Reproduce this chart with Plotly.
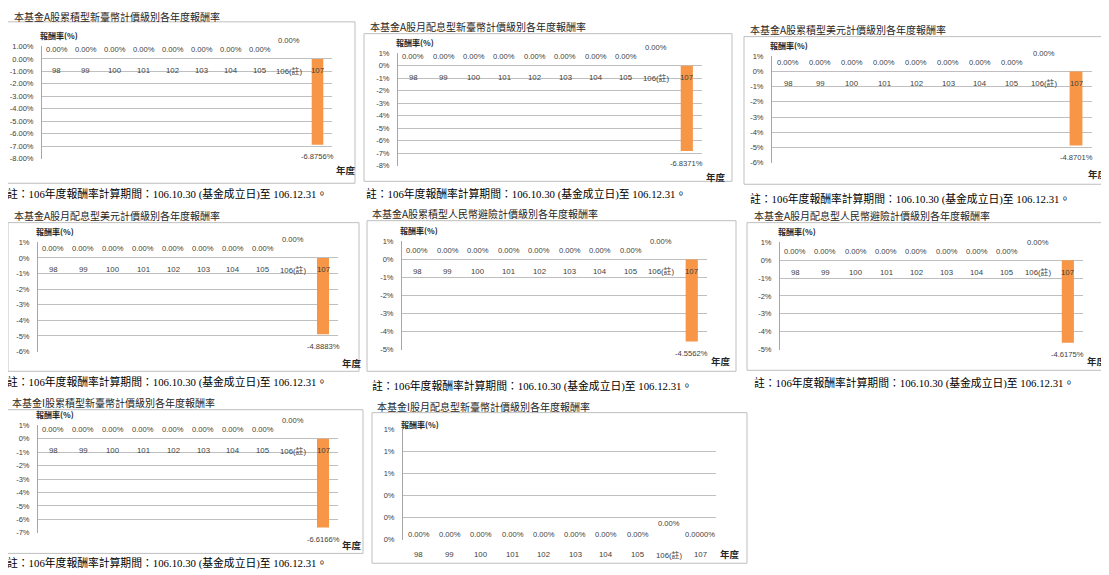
import plotly.graph_objects as go

W, H = 1109, 575

# ---------------- data ----------------
categories = ["98", "99", "100", "101", "102", "103", "104", "105", "106(註)", "107"]

titles = [
    "本基金A股累積型新臺幣計價級別各年度報酬率",
    "本基金A股月配息型新臺幣計價級別各年度報酬率",
    "本基金A股累積型美元計價級別各年度報酬率",
    "本基金A股月配息型美元計價級別各年度報酬率",
    "本基金A股累積型人民幣避險計價級別各年度報酬率",
    "本基金A股月配息型人民幣避險計價級別各年度報酬率",
    "本基金I股累積型新臺幣計價級別各年度報酬率",
    "本基金I股月配息型新臺幣計價級別各年度報酬率",
]

ret_a_acc_twd = [0, 0, 0, 0, 0, 0, 0, 0, 0, -6.8756]
ret_a_mth_twd = [0, 0, 0, 0, 0, 0, 0, 0, 0, -6.8371]
ret_a_acc_usd = [0, 0, 0, 0, 0, 0, 0, 0, 0, -4.8701]
ret_a_mth_usd = [0, 0, 0, 0, 0, 0, 0, 0, 0, -4.8883]
ret_a_acc_cny = [0, 0, 0, 0, 0, 0, 0, 0, 0, -4.5562]
ret_a_mth_cny = [0, 0, 0, 0, 0, 0, 0, 0, 0, -4.6175]
ret_i_acc_twd = [0, 0, 0, 0, 0, 0, 0, 0, 0, -6.6166]
ret_i_mth_twd = [0, 0, 0, 0, 0, 0, 0, 0, 0, 0.0]

ytick_c1 = [1, 0, -1, -2, -3, -4, -5, -6, -7, -8]
ytext_c1 = ["1.00%", "0.00%", "-1.00%", "-2.00%", "-3.00%", "-4.00%", "-5.00%", "-6.00%", "-7.00%", "-8.00%"]
ytick_c2 = [1, 0, -1, -2, -3, -4, -5, -6, -7, -8]
ytext_c2 = ["1%", "0%", "-1%", "-2%", "-3%", "-4%", "-5%", "-6%", "-7%", "-8%"]
ytick_c3 = [1, 0, -1, -2, -3, -4, -5, -6]
ytext_c3 = ["1%", "0%", "-1%", "-2%", "-3%", "-4%", "-5%", "-6%"]
ytick_c4 = [1, 0, -1, -2, -3, -4, -5, -6]
ytext_c4 = ["1%", "0%", "-1%", "-2%", "-3%", "-4%", "-5%", "-6%"]
ytick_c5 = [1, 0, -1, -2, -3, -4, -5]
ytext_c5 = ["1%", "0%", "-1%", "-2%", "-3%", "-4%", "-5%"]
ytick_c6 = [1, 0, -1, -2, -3, -4, -5]
ytext_c6 = ["1%", "0%", "-1%", "-2%", "-3%", "-4%", "-5%"]
ytick_c7 = [1, 0, -1, -2, -3, -4, -5, -6, -7]
ytext_c7 = ["1%", "0%", "-1%", "-2%", "-3%", "-4%", "-5%", "-6%", "-7%"]
ytick_c8 = [0, 0.2, 0.4, 0.6, 0.8, 1.0]
ytext_c8 = ["0%", "0%", "0%", "1%", "1%", "1%"]

note_text = "註：106年度報酬率計算期間：106.10.30 (基金成立日)至 106.12.31。"
ylabel_text = "報酬率(%)"
xlabel_text = "年度"

series = [ret_a_acc_twd, ret_a_mth_twd, ret_a_acc_usd, ret_a_mth_usd,
          ret_a_acc_cny, ret_a_mth_cny, ret_i_acc_twd, ret_i_mth_twd]
yticks = [ytick_c1, ytick_c2, ytick_c3, ytick_c4, ytick_c5, ytick_c6, ytick_c7, ytick_c8]
ytexts = [ytext_c1, ytext_c2, ytext_c3, ytext_c4, ytext_c5, ytext_c6, ytext_c7, ytext_c8]
has_note = [True, True, True, True, True, True, True, False]

# ---------------- layout geometry (screen pixels) ----------------
geo = [
    dict(plot=(42, 332, 43, 157), box=(6, 18, 355, 182), title=(12, 13), note=(5, 193)),
    dict(plot=(398, 702, 50, 164), box=(364, 30, 732, 180), title=(368, 23), note=(364, 193)),
    dict(plot=(772, 1092, 53, 161), box=(744, 33, 1120, 183), title=(748, 26), note=(748, 198)),
    dict(plot=(38, 338, 242, 353), box=(8, 222, 359, 373), title=(12, 215), note=(5, 384)),
    dict(plot=(402, 707, 241, 351), box=(367, 220, 736, 373), title=(370, 213), note=(370, 388)),
    dict(plot=(780, 1083, 242, 351), box=(747, 222, 1120, 372), title=(752, 215), note=(752, 385)),
    dict(plot=(38, 338, 428, 537), box=(6, 412, 363, 558), title=(10, 405), note=(5, 568)),
    dict(plot=(403, 716, 432, 544), box=(372, 415, 747, 568), title=(375, 409), note=None),
]

# the page body has an 8px default margin; compensate so screen positions match
OFF = 8

ORANGE = "#F79646"
GRID = "#BFBFBF"
AXIS = "#A6A6A6"
TXT = "#404040"
NUM_FONT = "Liberation Sans, Noto Sans CJK TC"
CJK_FONT = "Noto Sans CJK TC"
NOTE_FONT = "Liberation Serif, Noto Sans CJK TC"


def px(x):
    return (x - OFF) / W


def py(y):
    return 1 - (y - OFF) / H


fig = go.Figure()
layout = dict(
    width=W, height=H, autosize=False,
    margin=dict(l=0, r=0, t=0, b=0),
    paper_bgcolor="white", plot_bgcolor="white",
    showlegend=False, bargap=0.6,
)
annotations = []
shapes = []

for i in range(8):
    n = i + 1
    xa = "x" if n == 1 else f"x{n}"
    ya = "y" if n == 1 else f"y{n}"
    xkey = "xaxis" if n == 1 else f"xaxis{n}"
    ykey = "yaxis" if n == 1 else f"yaxis{n}"
    g = geo[i]
    L, R, T, B = g["plot"]
    vals = series[i]
    tv, tt = yticks[i], ytexts[i]
    ymin, ymax = min(tv), max(tv)
    last = (i == 7)

    fig.add_trace(go.Bar(
        x=categories, y=vals, xaxis=xa, yaxis=ya, width=0.4,
        marker=dict(color=ORANGE, line=dict(width=0)),
        hoverinfo="skip", showlegend=False,
    ))

    layout[xkey] = dict(
        domain=[px(L), px(R)], anchor=ya, type="category",
        categoryorder="array", categoryarray=categories,
        range=[-0.5, len(categories) - 0.5],
        showticklabels=False, showgrid=False, zeroline=False, showline=False,
        fixedrange=True,
    )
    layout[ykey] = dict(
        domain=[py(B), py(T)], anchor=xa, range=[ymin, ymax],
        tickmode="array", tickvals=tv, ticktext=tt,
        showgrid=True, gridcolor=GRID, gridwidth=1,
        zeroline=False, showline=True, linecolor=AXIS, linewidth=1,
        ticks="", ticklabelstandoff=6,
        tickfont=dict(size=7.5, color=TXT, family=NUM_FONT),
        fixedrange=True,
    )

    lab_shift = 5 if last else 9
    lab106_shift = 16 if last else 18
    cat_shift = -15 if last else -12

    for j, (c, v) in enumerate(zip(categories, vals)):
        # category axis position = index j
        if j == len(categories) - 1:
            txt = f"{v:.4f}%"
            ys = -12 if v < 0 else lab_shift
        else:
            txt = f"{v:.2f}%"
            ys = lab106_shift if c.startswith("106") else lab_shift
        annotations.append(dict(
            x=j, y=v, xref=xa, yref=ya, text=txt, showarrow=False,
            yshift=ys, font=dict(size=7.6, color=TXT, family=NUM_FONT),
        ))
        annotations.append(dict(
            x=j, y=0, xref=xa, yref=ya, text=c, showarrow=False,
            yshift=cat_shift, font=dict(size=7.8, color=TXT, family=NUM_FONT),
        ))

    # axis titles
    ylab_y = T - (5 if last else 11)
    annotations.append(dict(
        x=px(L - 4), y=py(ylab_y), xref="paper", yref="paper",
        text=f"<b>{ylabel_text}</b>", showarrow=False, xanchor="left", yanchor="middle",
        font=dict(size=8, color="#262626", family=CJK_FONT),
    ))
    xlab_y = B + (15 if last else 12)
    xlab_x = min(R + 14, W - 11)
    annotations.append(dict(
        x=px(xlab_x), y=py(xlab_y), xref="paper", yref="paper",
        text=f"<b>{xlabel_text}</b>", showarrow=False, xanchor="center", yanchor="middle",
        font=dict(size=9.5, color="#262626", family=CJK_FONT),
    ))

    # chart title
    tx, tyy = g["title"]
    annotations.append(dict(
        x=px(tx), y=py(tyy), xref="paper", yref="paper", text=titles[i],
        showarrow=False, xanchor="left", yanchor="middle",
        font=dict(size=10, color="#262626", family=CJK_FONT),
    ))

    # note
    if has_note[i] and g["note"]:
        nx, ny = g["note"]
        annotations.append(dict(
            x=px(nx), y=py(ny), xref="paper", yref="paper", text=note_text,
            showarrow=False, xanchor="left", yanchor="middle",
            font=dict(size=10.8, color="black", family=NOTE_FONT),
        ))

    # chart frame
    bl, bt, br, bb = g["box"]
    shapes.append(dict(
        type="rect", xref="paper", yref="paper",
        x0=px(bl), x1=px(br), y0=py(bb), y1=py(bt),
        line=dict(color="#BFBFBF", width=1), fillcolor="rgba(0,0,0,0)", layer="below",
    ))

layout["annotations"] = annotations
layout["shapes"] = shapes
fig.update_layout(**layout)

fig.write_html("out.html")
